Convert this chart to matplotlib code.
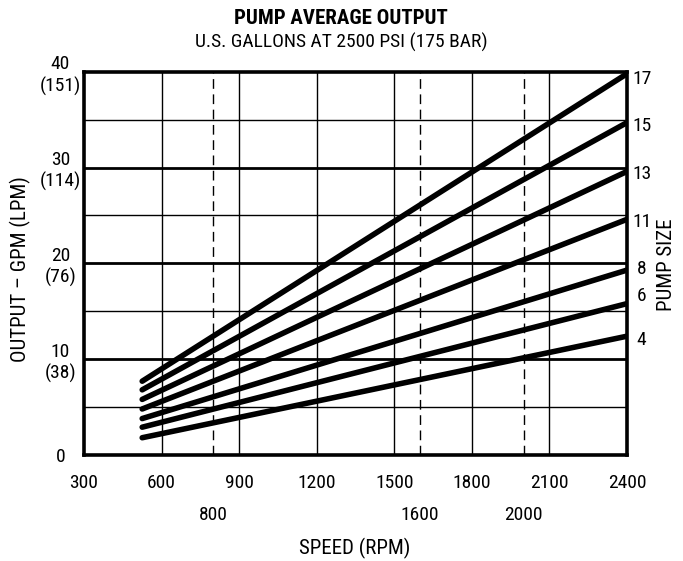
import matplotlib
matplotlib.use("Agg")
import matplotlib.pyplot as plt

plt.rcParams['font.family'] = ["Roboto Condensed", "DejaVu Sans"]

# Data
pump_sizes = ["17", "15", "13", "11", "8", "6", "4"]
speed_rpm = [525, 2400]
output_17 = [7.7, 39.8]
output_15 = [6.8, 34.7]
output_13 = [5.8, 29.6]
output_11 = [4.8, 24.6]
output_8 = [3.8, 19.3]
output_6 = [2.9, 15.8]
output_4 = [1.8, 12.4]
series = [output_17, output_15, output_13, output_11, output_8, output_6, output_4]
label_y = [39.3, 34.3, 29.3, 24.3, 19.4, 16.6, 12.0]

x_ticks = [300, 600, 900, 1200, 1500, 1800, 2100, 2400]
x_dashed = [800, 1600, 2000]
y_ticks = [0, 10, 20, 30, 40]
y_tick_labels = ["0", "10\n(38)", "20\n(76)", "30\n(114)", "40\n(151)"]
y_minor = [5, 15, 25, 35]

fig = plt.figure(figsize=(6.83, 5.61), dpi=100)
ax = fig.add_axes([0.123, 0.189, 0.795, 0.683])
ax.set_xlim(300, 2400)
ax.set_ylim(0, 40)

for x in x_ticks[1:-1]:
    ax.axvline(x, color="black", lw=1.0, zorder=1)
for x in x_dashed:
    ax.axvline(x, color="black", lw=1.0, ls=(0, (7, 4)), zorder=1)
for y in y_minor:
    ax.axhline(y, color="black", lw=1.0, zorder=1)
for y in y_ticks[1:-1]:
    ax.axhline(y, color="black", lw=2.0, zorder=1)

for s in series:
    ax.plot(speed_rpm, s, color="black", lw=4.0, solid_capstyle="round", zorder=3)

for lab, y in zip(pump_sizes, label_y):
    ax.text(1.027, y, lab, transform=ax.get_yaxis_transform(), ha="center", va="center", fontsize=14)

for sp in ax.spines.values():
    sp.set_linewidth(2.6)

ax.set_xticks(x_ticks)
ax.set_xticklabels([str(v) for v in x_ticks], fontsize=14)
ax.set_yticks(y_ticks)
ax.set_yticklabels(y_tick_labels, fontsize=14, linespacing=1.2)
for t in ax.get_yticklabels():
    t.set_ha("center")
ax.tick_params(axis="x", length=0, pad=14)
ax.tick_params(axis="y", length=0, pad=17)

for x in x_dashed:
    ax.text(x, -6.3, str(x), ha="center", va="center", fontsize=14)

fig.text(0.519, 1 - 548 / 561, "SPEED (RPM)", ha="center", va="center", fontsize=15)
fig.text(20 / 683, 1 - 269 / 561, "OUTPUT – GPM (LPM)", rotation=90, ha="center", va="center", fontsize=15)
fig.text(667 / 683, 1 - 265 / 561, "PUMP SIZE", rotation=90, ha="center", va="center", fontsize=15)

fig.text(0.499, 1 - 18 / 561, "PUMP AVERAGE OUTPUT", ha="center", va="center", fontsize=15, fontweight="bold")
fig.text(0.499, 1 - 42 / 561, "U.S. GALLONS AT 2500 PSI (175 BAR)", ha="center", va="center", fontsize=14)

fig.savefig("out.png", dpi=100)
